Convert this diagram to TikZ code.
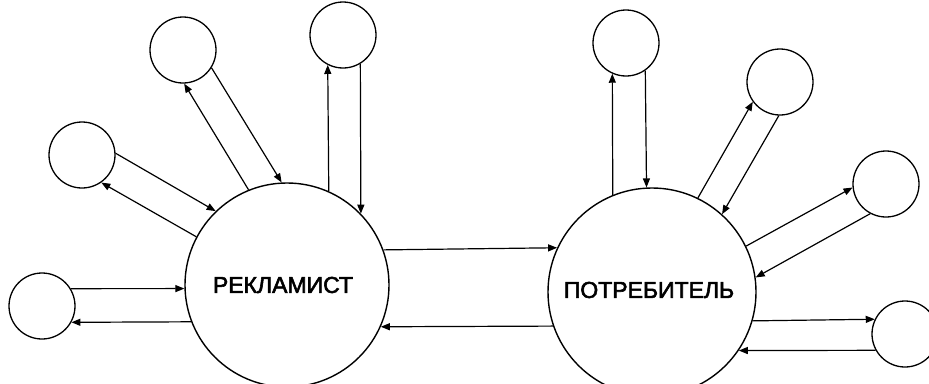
\documentclass[tikz,border=0pt]{standalone}
\usepackage{fontspec}
\setmainfont{Liberation Sans}
\newfontfamily\lblfont[FakeBold=2.5]{Liberation Sans}
\usetikzlibrary{arrows.meta}
\begin{document}
\begin{tikzpicture}[x=1pt,y=-1pt,
  big/.style={circle,draw,line width=1.4pt,inner sep=0pt},
  small/.style={circle,draw,line width=1.3pt,minimum size=66pt,inner sep=0pt},
  link/.style={line width=1.2pt,-{Triangle[length=9pt,width=7pt]}},
  lbl/.style={font=\lblfont\fontsize{23}{23}\selectfont}]
\useasboundingbox (0,0) rectangle (929,383);
\clip (0,0) rectangle (929,383);
% main circles
\node[big,minimum size=204pt] (R) at (287,285) {};
\node[big,minimum size=208pt] (P) at (652,292) {};
\node[lbl] (tR) at (283,285) {РЕКЛАМИСТ};
\node[lbl] (tP) at (649,290) {ПОТРЕБИТЕЛЬ};
% satellites
\node[small] (S1) at (42,306) {};
\node[small] (S2) at (82,155) {};
\node[small] (S3) at (183,50) {};
\node[small] (S4) at (343,35) {};
\node[small] (Q1) at (626,43) {};
\node[small] (Q2) at (780,82) {};
\node[small] (Q3) at (886,184) {};
\node[small] (Q4) at (905,334) {};
% left side
\draw[link] (S1.31) -- (R.182.25);
\draw[link] (R.201.3) -- (S1.331);
\draw[link] (S2.3) -- (R.134.6);
\draw[link] (R.152.4) -- (S2.305);
\draw[link] (S3.328) -- (R.93.9);
\draw[link] (R.112.8) -- (S3.272);
\draw[link] (R.66.3) -- (S4.243);
\draw[link] (S4.301) -- (R.44.3);
% middle
\draw[link] (R.20.7) -- (P.155.6);
\draw[link] (P.199.1) -- (R.336.3);
% right side
\draw[link] (P.112) -- (Q1.246.8);
\draw[link] (Q1.305.2) -- (P.93.9);
\draw[link] (P.64.2) -- (Q2.216.9);
\draw[link] (Q2.268) -- (P.48);
\draw[link] (P.26.1) -- (Q3.186);
\draw[link] (Q3.242.7) -- (P.8.3);
\draw[link] (P.344.4) -- (Q4.154.9);
\draw[link] (Q4.209) -- (P.326.1);
\end{tikzpicture}
\end{document}
